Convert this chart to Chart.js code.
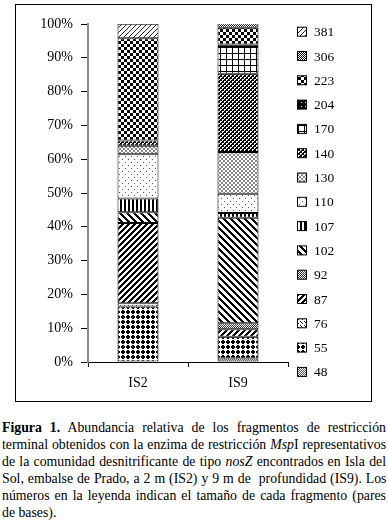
<!DOCTYPE html>
<html>
<head>
<meta charset="utf-8">
<script src="https://cdn.jsdelivr.net/npm/chart.js@4"></script>
<style>
  body { margin: 0; background: #fff; width: 388px; height: 524px; position: relative; overflow: hidden; }
  #box { position: absolute; left: 15px; top: 4px; width: 357px; height: 398px; border: 1px solid #000; box-sizing: border-box; }
  #wrap { position: absolute; left: 16px; top: 5px; width: 354px; height: 395px; }
  #caption { position: absolute; left: 2px; top: 419px; width: 384px; font: 13.8px "Liberation Serif", serif; line-height: 17px; color: #000; }
  #caption div { white-space: nowrap; }
</style>
</head>
<body>
<div id="box"></div>
<div id="wrap"><canvas id="c" width="354" height="395"></canvas></div>
<div id="caption">
  <div class="j"><b>Figura 1.</b> Abundancia relativa de los fragmentos de restricción</div>
  <div class="j">terminal obtenidos con la enzima de restricción <i>Msp</i>I representativos</div>
  <div class="j">de la comunidad desnitrificante de tipo <i>nosZ</i> encontrados en Isla del</div>
  <div class="j">Sol, embalse de Prado, a 2 m (IS2) y 9 m de&nbsp; profundidad (IS9). Los</div>
  <div class="j">números en la leyenda indican el tamaño de cada fragmento (pares</div>
  <div>de bases).</div>
</div>
<script>
// Stacked relative abundance of T-RFs, two samples
const categories = ['IS2', 'IS9'];
const fragments = ['48', '55', '76', '87', '92', '102', '107', '110', '130', '140', '170', '204', '223', '306', '381'];
// percent per fragment, [IS2, IS9]
const abundance = {
    '48':  [null, 1.0],
    '55':  [16.4, 6.5],
    '76':  [1.0, null],
    '87':  [23.7, 2.2],
    '92':  [null, 1.8],
    '102': [3.2, 31.2],
    '107': [4.1, 1.4],
    '110': [13.1, 5.7],
    '130': [2.5, 12.3],
    '140': [1.5, 23.2],
    '170': [null, 7.9],
    '204': [null, 0.7],
    '223': [30.3, 5.0],
    '306': [null, 1.3],
    '381': [4.3, null],
};
const yTicks = [0, 10, 20, 30, 40, 50, 60, 70, 80, 90, 100];

// justify caption lines to the box width (keeps the printed line breaks)
document.querySelectorAll('#caption .j').forEach(el => {
    const target = 384;
    el.style.display = 'inline-block';
    const w = el.getBoundingClientRect().width;
    const gaps = (el.textContent.match(/ /g) || []).length;
    if (w < target) el.style.wordSpacing = ((target - w) / gaps) + 'px';
    else el.style.letterSpacing = ((target - w) / el.textContent.length) + 'px';
    el.style.display = 'block';
});

const canvas = document.getElementById('c');
const ctx0 = canvas.getContext('2d');

function pattern(size, draw) {
    const c = document.createElement('canvas');
    c.width = c.height = size;
    const g = c.getContext('2d');
    g.fillStyle = '#fff';
    g.fillRect(0, 0, size, size);
    g.fillStyle = '#000';
    draw(g, size);
    return ctx0.createPattern(c, 'repeat');
}
function pix(test, color) {
    return (g, n) => {
        g.fillStyle = color || '#000';
        for (let y = 0; y < n; y++)
            for (let x = 0; x < n; x++)
                if (test(x, y, n)) g.fillRect(x, y, 1, 1);
    };
}

const fills = {
    '48':  pattern(2, pix((x, y) => (x + y) % 2 === 0, '#555')),
    '55':  pattern(5, g => { g.fillRect(1, 0, 2, 4); g.fillRect(0, 1, 4, 2); }),
    '76':  pattern(4, pix((x, y) => (x + y) % 4 === 0 && x % 2 === 0 || (x === 1 && y === 1), '#222')),
    '87':  pattern(6, pix((x, y, n) => (x + y) % n < 3)),
    '92':  pattern(2, pix((x, y) => (x + y) % 2 === 0, '#333')),
    '102': pattern(7, pix((x, y, n) => (x - y + n) % n < 3)),
    '107': pattern(4, g => g.fillRect(0, 0, 2, 4)),
    '110': pattern(6, pix((x, y) => (x === 1 && y === 1) || (x === 4 && y === 4), '#555')),
    '130': pattern(4, pix((x, y) => x === y || x === 3 - y, '#888')),
    '140': pattern(4, g => {
        g.fillRect(0, 0, 4, 4);
        g.fillStyle = '#fff';
        g.fillRect(0, 0, 2, 1); g.fillRect(0, 1, 1, 1);
        g.fillRect(2, 2, 2, 1); g.fillRect(2, 3, 1, 1);
    }),
    '170': pattern(6, g => { g.fillRect(0, 0, 6, 1); g.fillRect(0, 0, 1, 6); }),
    '204': pattern(4, g => { g.fillRect(0, 0, 4, 4); g.fillStyle = '#fff'; g.fillRect(1, 1, 1, 1); }),
    '223': pattern(6, g => { g.fillRect(0, 0, 3, 3); g.fillRect(3, 3, 3, 3); }),
    '306': pattern(2, pix((x, y) => (x + y) % 2 === 0, '#111')),
    '381': pattern(5, pix((x, y, n) => (x + y) % n === n - 1, '#222')),
};

const FONT = '"Liberation Serif", "Times New Roman", serif';

const sideLegend = {
    id: 'sideLegend',
    afterDraw(chart) {
        const { ctx } = chart;
        const items = chart.data.datasets.slice().reverse();
        ctx.save();
        ctx.font = '13.5px ' + FONT;
        ctx.textBaseline = 'middle';
        ctx.textAlign = 'left';
        items.forEach((ds, i) => {
            const y = 26.7 + i * 24.3;
            ctx.fillStyle = ds.backgroundColor;
            ctx.fillRect(281, y - 4.5, 9, 9);
            ctx.strokeStyle = '#000';
            ctx.lineWidth = 1;
            ctx.strokeRect(281.5, y - 4.5, 9, 9);
            ctx.fillStyle = '#000';
            ctx.fillText(ds.label, 298, y + 1);
        });
        ctx.restore();
    }
};

new Chart(canvas, {
    type: 'bar',
    data: {
        labels: categories,
        datasets: fragments.map(f => ({
            label: f,
            data: abundance[f],
            backgroundColor: fills[f],
            borderColor: '#000',
            borderWidth: 1,
            borderSkipped: false,
            barPercentage: 0.41,
            categoryPercentage: 1,
        })),
    },
    options: {
        responsive: false,
        animation: false,
        layout: { padding: { top: 19, right: 82, left: 0, bottom: 0 } },
        scales: {
            x: {
                stacked: true,
                afterFit: s => { s.height = 38; },
                grid: { drawOnChartArea: false, offset: true, tickLength: 5, color: '#000' },
                border: { color: '#000', width: 1 },
                ticks: { color: '#000', padding: 8, font: { family: FONT, size: 14 } },
            },
            y: {
                stacked: true,
                min: 0, max: 100,
                afterFit: s => { s.width = 72; },
                afterBuildTicks: s => { s.ticks = yTicks.map(v => ({ value: v })); },
                grid: { drawOnChartArea: false, tickLength: 7, color: '#000' },
                border: { color: '#888', width: 2 },
                ticks: { color: '#000', padding: 8, font: { family: FONT, size: 14 }, callback: v => v + '%' },
            },
        },
        plugins: { legend: { display: false }, tooltip: { enabled: false } },
    },
    plugins: [sideLegend],
});
</script>
</body>
</html>
